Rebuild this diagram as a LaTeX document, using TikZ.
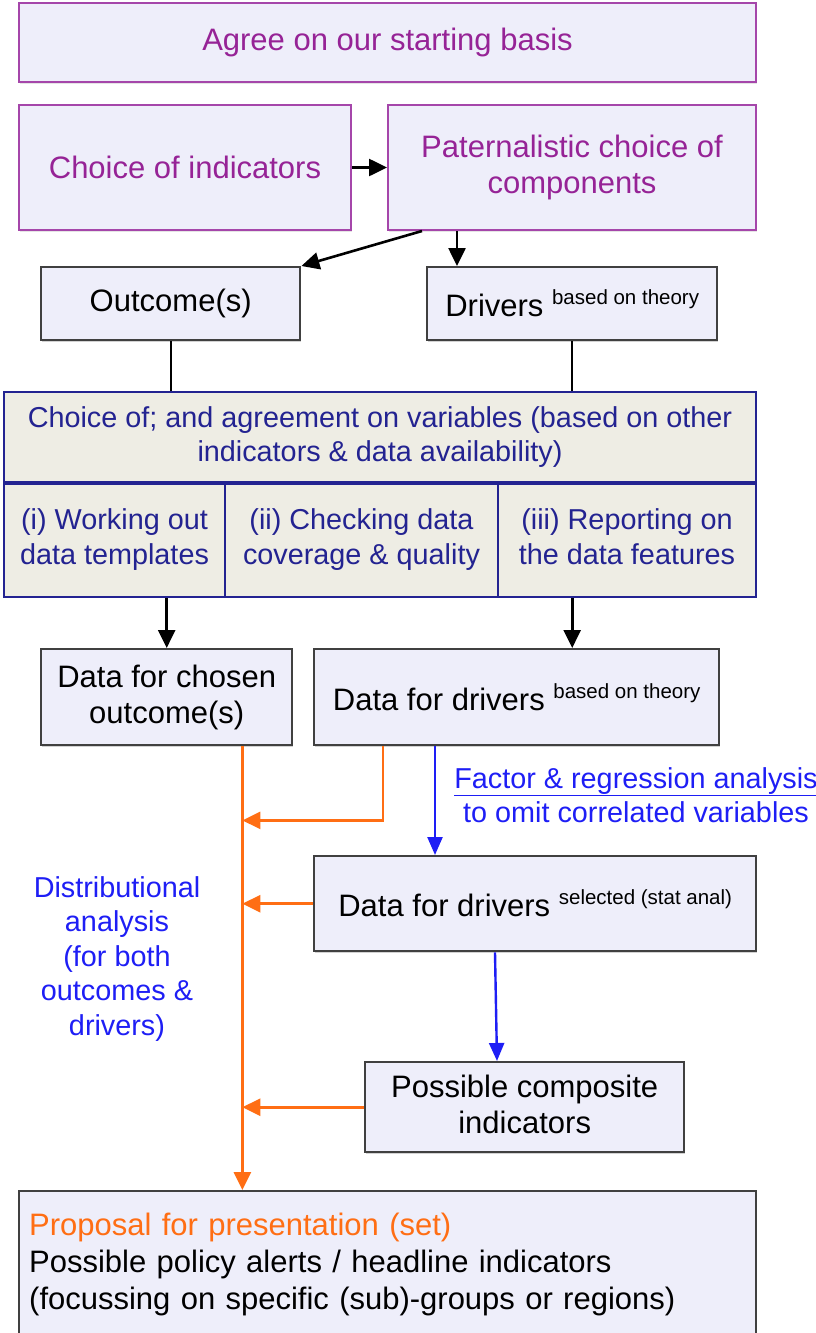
\documentclass[tikz,border=0pt]{standalone}
\usepackage{fontspec}
\setmainfont{Liberation Sans}
\usetikzlibrary{arrows.meta,shadows}
\definecolor{lilac}{RGB}{238,238,250}
\definecolor{stone}{RGB}{238,237,228}
\definecolor{plum}{RGB}{165,70,170}
\definecolor{plumtxt}{RGB}{150,35,150}
\definecolor{navy}{RGB}{35,35,145}
\definecolor{vivid}{RGB}{30,30,245}
\definecolor{tang}{RGB}{255,110,20}
\def\bigfont{\fontsize{31}{36}\selectfont}
\def\midfont{\fontsize{28.8}{34.5}\selectfont}
\def\supfont{\fontsize{20.5}{20.5}\selectfont}
\newcommand{\uptxt}[1]{\raisebox{12pt}{\supfont #1}}
\tikzset{
    box/.style={draw, line width=2pt, fill=lilac, inner sep=0pt, align=center, anchor=north west, font=\bigfont},
    purplebox/.style={box, draw=plum, text=plumtxt, drop shadow={shadow xshift=1pt, shadow yshift=-1.5pt, fill=black!20}},
    greybox/.style={box, draw=black!75, line width=2.4pt, drop shadow={shadow xshift=1pt, shadow yshift=-1.5pt, fill=black!35}},
    varbox/.style={box, draw=navy, fill=stone, text=navy, font=\midfont},
    blk/.style={line width=2.6pt, -{Triangle[length=18pt,width=17pt]}},
    org/.style={draw=tang, line width=2.8pt, -{Triangle[length=18pt,width=17pt]}},
    blu/.style={draw=vivid, line width=2.4pt, -{Triangle[length=18pt,width=15pt]}},
    note/.style={text=vivid, font=\midfont, align=center}
}

\begin{document}
\begin{tikzpicture}[x=1pt, y=-1pt]
    \useasboundingbox (0,0) rectangle (816,1333);
    \node[purplebox, minimum width=737pt, minimum height=79pt] (agree) at (18,2) {Agree on our starting basis};
    \node[purplebox, minimum width=332pt, minimum height=125pt] (indic) at (18,104) {Choice of indicators};
    \node[purplebox, minimum width=368pt, minimum height=125pt] (patern) at (387,104) {Paternalistic choice of\\components};
    \node[greybox, minimum width=259pt, minimum height=73pt] (outc) at (40,266) {Outcome(s)};
    \node[greybox, minimum width=290pt, minimum height=73pt] (drv) at (426,266) {Drivers \uptxt{based on theory}};
    \node[varbox, minimum width=752pt, minimum height=90pt] (vars) at (3,391) {Choice of; and agreement on variables (based on other\\indicators \& data availability)};
    \node[varbox, minimum width=221pt, minimum height=115pt] (work) at (3,481) {(i) Working out\\data templates};
    \node[varbox, minimum width=273pt, minimum height=115pt] (check) at (224,481) {(ii) Checking data\\coverage \& quality};
    \node[varbox, minimum width=258pt, minimum height=115pt] (report) at (497,481) {(iii) Reporting on\\the data features\vphantom{g}};
    \draw[navy, line width=4pt] (vars.south west) -- (vars.south east);
    \node[greybox, minimum width=251pt, minimum height=96pt] (dchosen) at (40,648) {Data for chosen\\outcome(s)};
    \node[greybox, minimum width=405pt, minimum height=96pt] (dtheory) at (313,648) {Data for drivers \uptxt{based on theory}};
    \node[greybox, minimum width=442pt, minimum height=95pt] (dsel) at (313,855) {Data for drivers \uptxt{selected (stat anal)}};
    \node[greybox, minimum width=319pt, minimum height=90pt] (compo) at (364,1061) {Possible composite\\indicators\vphantom{g}};
    \node[greybox, text width=717pt, inner xsep=10pt, minimum height=146pt, align=left, font=\fontsize{31}{37}\selectfont] (prop) at (18,1190)
        {\textcolor{tang}{Proposal for presentation (set)}\\Possible policy alerts / headline indicators\\(focussing on specific (sub)-groups or regions)};
    \node[note] (factor) at (636,795) {\underline{Factor \& regression analysis}\\to omit correlated variables};
    \node[note] (distr) at (117,959) {Distributional\\analysis\\(for both\\outcomes \&\\drivers)};

    \draw[blk] (indic) -- (patern);
    \draw[blk] ([xshift=35pt]patern.south west) -- (outc.north east);
    \draw[blk] ([xshift=31pt]drv.north west |- patern.south) -- ([xshift=31pt]drv.north west);
    \draw[line width=2.4pt] (outc.south) -- (outc.south |- vars.north);
    \draw[line width=2.4pt] (drv.south) -- (drv.south |- vars.north);
    \draw[blk] (dchosen.north |- work.south) -- (dchosen.north);
    \draw[blk] (drv.south |- report.south) -- (drv.south |- dtheory.north);

    \coordinate (spine) at ([xshift=-51pt]dchosen.south east);
    \draw[org] (spine) -- (spine |- prop.north);
    \draw[org] ([xshift=70pt]dtheory.south west) |- ([yshift=-74pt]spine);
    \draw[org] (dsel.west) -- (dsel.west -| spine);
    \draw[org] (compo.west) -- (compo.west -| spine);
    \draw[blu] ([xshift=122pt]dtheory.south west) -- ([xshift=122pt]dtheory.south west |- dsel.north);
    \draw[blu] ([xshift=182pt]dsel.south west) -- ([xshift=133pt]compo.north west);
\end{tikzpicture}
\end{document}
